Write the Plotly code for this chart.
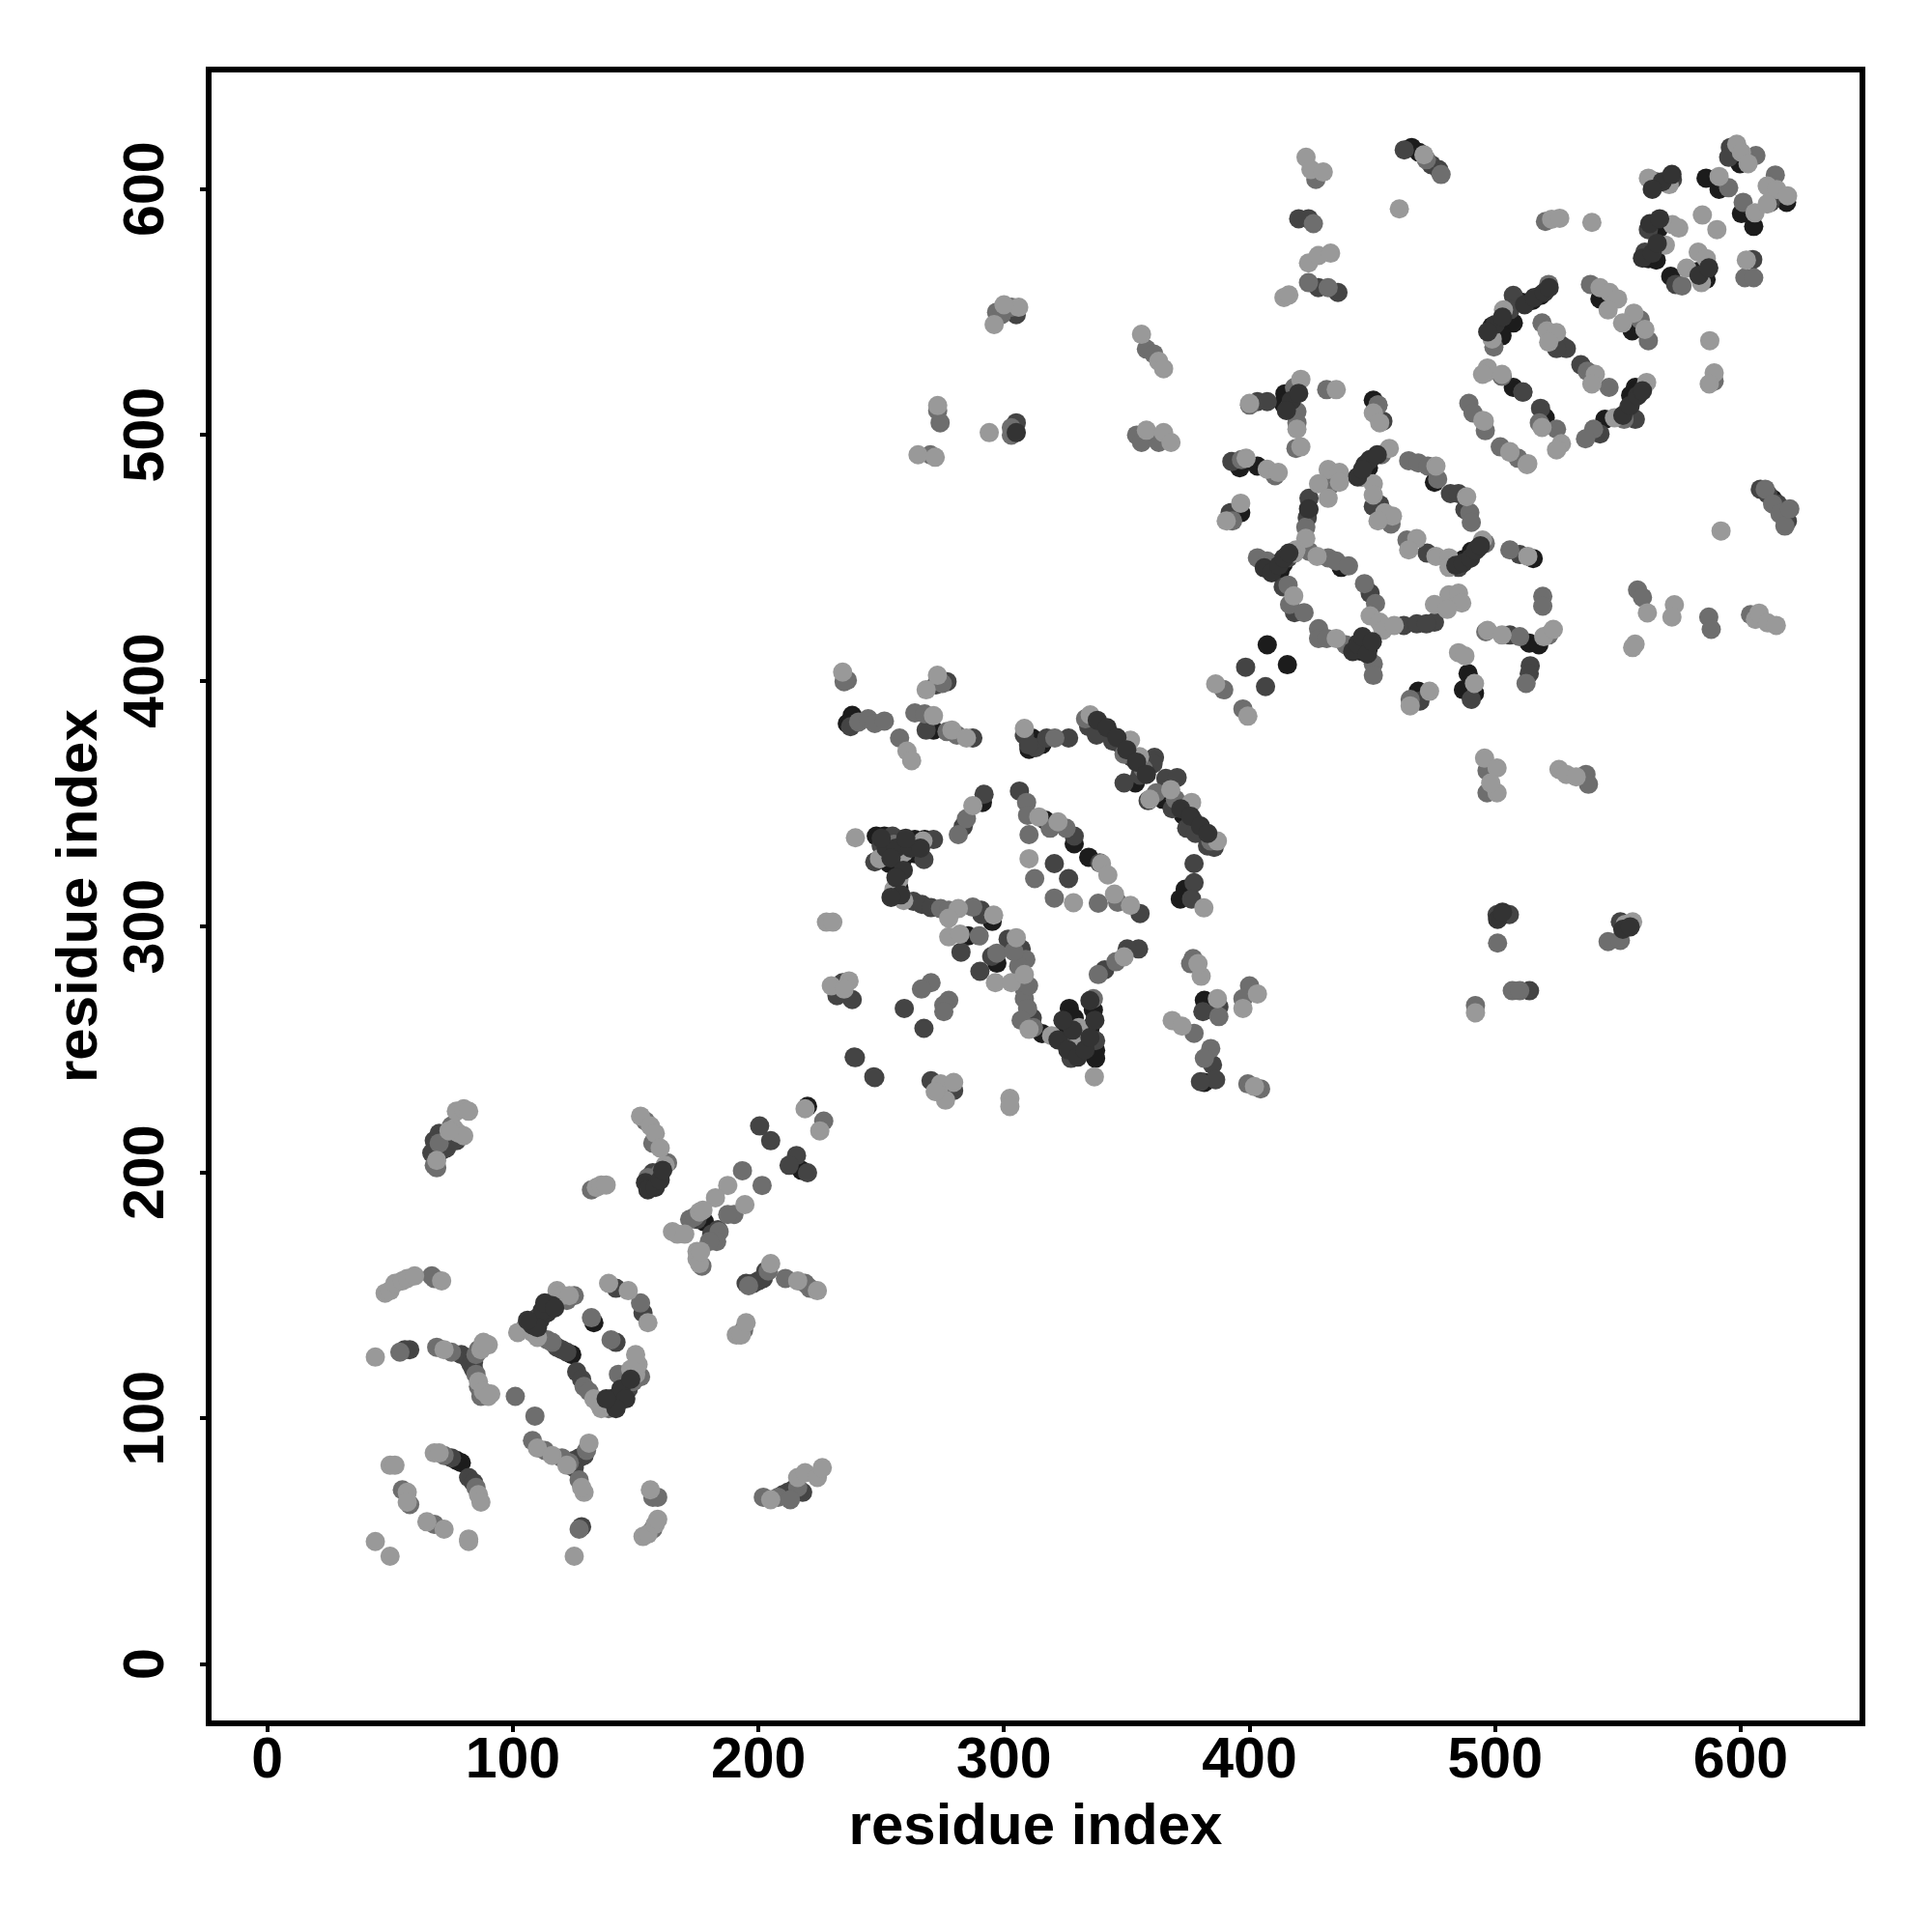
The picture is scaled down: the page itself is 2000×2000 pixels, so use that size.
import plotly.graph_objects as go

light_pts = [
(77,225),(80,226),(82,225),(76,218),(78,216),(80,215),(74,217),(69,205),
(152,223),(156,219),(158,216),(160,210),(162,203),
(44,125),(72,128),(87,128),(90,130),(88,131),(86,115),(88,111),(91,110),(90,109),
(48,151),(50,152),(52,155),(55,156),(57,157),(60,158),(71,156),
(50,81),(52,81),(68,86),(70,86),(86,69),(87,66),(57,70),(57,66),(65,58),(72,55),(82,50),(82,51),(44,50),(50,44),
(102,135),(118,152),(120,150),(123,150),(108,135),(110,133),(133,108),(135,106),(136,104),(150,118),(151,122),(150,126),(148,120),
(139,155),(147,152),(155,139),
(110,88),(116,85),(131,90),(122,81),(129,70),(128,72),(125,44),
(153,52),(155,53),(158,57),(159,59),(156,71),
(205,67),(216,76),(219,78),(224,76),(226,80),(205,163),(216,156),(224,152),
(191,134),(193,134),(195,139),
(165,176),(167,175),(170,175),(176,184),(175,168),(175,165),(176,163),(187.5,194.8),(182.5,189.8),(177.4,184.8),(176.5,168),(194.5,187),
(225,217),(219,226),(134,194),(136,195),(138,195),
(234.3,403.6),(272.9,402.3),(268.3,396.4),(260.5,371.5),(262.4,367.6),(271.3,385.9),(278.8,380),(284.7,376.8),
(308.3,380.7),(335.1,386.2),(351.5,375.9),(355.2,369.2),(359.4,351.9),(367.9,355.8),(376.4,350.6),(386.9,334.9),
(239.5,336.2),(267,334.9),(259.2,330.3),(249.3,327.7),(257.2,319.2),(255.2,315.3),(259.2,310.7),(281.4,307.4),(277.5,303.5),(295.8,304.8),
(227.7,301.9),(230.3,301.9),(277.5,295.9),(282.1,297),(296.5,277.3),(305,295.6),(303,277.3),(308.3,280.6),(310.2,258.3),(319.4,255.7),(330.5,259),(328.6,250.5),(336.8,239),(332,255),
(314.2,344.7),(322,342.7),(339.7,325.7),(342.3,321.1),(345,313.3),(351.5,308.7),(310.2,327.7),(328.3,309.8),(287.3,349.3),
(381.4,307.7),(348.9,287.8),(380.3,279.9),(379,285),(386.9,270.8),(403.2,272.7),(397.3,266.8),(368.5,261.9),(372.5,259.6),(402,235),
(302.4,230.2),(302.4,226.9),(236.9,278),(229.7,276),(234.9,274.7),(274.2,236.1),(279.5,236.7),(276.2,229.5),(272,233),
(400,512.9),(420.9,522.7),(419.3,502.4),(420.9,495.2),(435.3,518.5),(450.4,509),(453,505),
(456.9,494.6),(445.8,482.8),(450.4,480.2),(450.4,475.6),(455,468.4),(458.2,467.1),(452.3,465.1),(475.9,487.4),(488.4,474.9),
(468.1,457.9),(464.8,453.3),(475.9,450.7),(481.2,450.1),(481.2,446.2),(494.9,457.3),
(513.3,450.7),(398.6,490.6),(407.2,486.1),(411.7,484.8),(432,486),(436.6,484.8),(428.1,480.2),(436.6,480.8),(432,474.3),(422.9,458),(418.9,453.3),
(396.4,472.3),(390.5,465.1),(418.3,452),(427.5,450.7),(418,434.6),
(449.1,426.5),(453,423.9),(454.3,420.6),(458.9,422.6),(475.3,431.1),(481.2,435),(485.1,435.7),(486.4,431.7),(480.5,429.1),
(435.3,417.3),(386.2,398.8),(399.3,385.7),(473.3,395.8),(465.4,389.9),(485.1,411.5),(487.7,410.2),(491.6,399),
(496.9,420.6),(502.8,418.7),(519.8,418),(523.7,421),(496.2,525.3),(495.6,505.7),(506,493.3),(513.3,488.4),(527,496.5),(525,494),(519.1,503.1),
(471,614),(461,592),(523,587.8),(526.3,588.2),(539.4,586.5),(562.4,604.5),(570.9,601.9),(572.2,585.6),(574.8,584.2),(569.3,577.3),(578,567.9),
(582.7,574.4),(586,571.8),(584,562),(584.4,589.5),(590.3,583.6),(591.2,605.2),(598.4,618.3),(600.3,615),(603,610.4),(605.8,590.4),
(610.8,601.3),(614.7,599.9),(619.1,597.3),(610.8,594),(602.3,571.2),(587.4,538.4),(589.2,525.3),(587.2,520.8),
(503.4,550.9),(498.8,539.1),(542.7,560),(546.6,558),(549.9,555.4),(546,550.9),(556.5,549.6),(551.9,545.6),(561,543),
(521.1,542.4),(525,541.7),(521.8,537.8),(540.8,524.7),(539.4,520.8),(561.7,521.4),(548.6,507),
(496.9,527.3),(494.9,524.7),(502.8,524.7),(495,506),(506,493),(513,488),
(592,461),(562,427.7),(557,415),(556,413.6),(573,431),(572,426),(606,425),(607.5,427.6),(611,423.6),(614.5,422.6),
(495.7,368.6),(500.8,364.6),(500.8,354.5),(498.2,358.5),(526,364),(529,362),(533,361),
(553,301),(556,302),(492,265),(294,501),(296,545),(306,552),(300,553),(265,492),(272,491),(273,512),(356,541),(363,530),(365,527),(358,502),(365,501),(368,497),
(423,613),(425,608),(430,607),(424,570),(428,573),(433,574),(414,556),(416,557),
]

mid_pts = [
(68,203),(69,202),(70,212),(75,219),(154,221),(157,212),(160,200),(155,198),(163,204),
(54,127),(69,129),(75,127),(85,126),(86,128),(85,118),(87,109),(86,113),(101,109),(109,101),(68,157),(67,158),
(72,85),(85,72),(55,71),(58,65),(68,57),(105,137),(107,139),(117,148),(125,150),(122,148),(114,132),(116,131),(129,113),(131,111),(139,104),(149,115),(152,117),(143,118),
(152,147),(132,141),(140,132),(108,91),(113,87),(120,84),(123,82),(130,87),(127,75),(127,55),
(157,55),(157,68),(159,68),(202,68),(208,68),(216,72),(213,67),(204,160),(196,154),(211,157),(219,155),(221,153),(194,136),
(172,181),(177,162),(184,176),(183,172),(190,183),(193.5,200.8),(201.5,194.8),(187.5,183),(174,182),(180,172),(226.6,221),(132,193),
(236.2,400.3),(234.9,399.7),(274.9,399),(240.8,383.3),(244.7,384.6),(247.4,382.7),(251.3,383.7),(257.5,376.8),
(263.7,387),(267.7,386.6),(280.8,378),(276.8,379.4),(320.7,376.8),(333.2,384.6),(348.9,370.2),(356.7,364.3),(362,354.5),(369.8,351.9),(384.2,334.9),
(255.2,333.6),(274.2,307.4),(277.5,306.8),(287.3,308),(289.9,296.3),(297.1,289.3),(308.9,286.7),(308.3,274.7),(308.3,270.8),(309.6,266.8),(336.4,270.8),
(309.2,350.6),(309.6,345.4),(318.8,340.1),(325.3,340.1),(310.2,337.5),(346.3,310),(312.5,319.6),(320.5,311.7),(338.4,309.6),(281.4,337.5),(284.7,344),
(345.6,285.8),(338.4,280.6),(377,287.1),(376,285),(387.5,263.5),(400,276),(397.3,270.8),(377.4,256.7),(384.2,250.5),(381.6,246.5),(399.3,236.1),(404.5,234.1),
(270.3,277.3),(266.4,274.7),(277.5,270.1),(275.5,268.1),(275.5,265.5),
(400,512.2),(418.3,519.4),(419.3,509.6),(419.3,505),(418.9,494.6),(431.4,518.5),(452.3,512.2),
(453.7,492),(457.6,463.8),(464.8,489.6),(468.7,488.7),(472.6,487.4),(476.6,482.1),(489.7,468.4),(490.3,464.5),(464.1,457.3),(496,456),
(506,453.3),(396.7,490),(410.4,483.5),(432.7,479.5),(422.9,462.5),(424.2,452.7),(393.1,465.1),(403.2,450.1),(407.2,448.8),(432,450.1),(435.3,448.8),(440.3,446.8),
(415.7,439),(416.3,431.1),(422.2,427.8),(446.8,439.6),(451.3,431.5),(450.4,406.9),(450.4,402.3),(428.1,421.3),(428.1,417.3),(431.4,417.3),(439.2,414.7),
(389.5,396.4),(397.3,388.6),(465.4,392.5),(496.2,420),(510,418),(521.8,418.7),(519.4,434.4),(519.4,430.4),(512.6,399),
(502.8,524),(452.3,512.2),(489.3,512.9),(491,509),(496,501.8),(502.1,495.2),(509.3,490.6),(525,502.4),(518,505),
(472,612),(478,606),(520.5,586.9),(565,603.2),(576.1,560.7),(595.1,600.6),(606.2,613.7),(601,594.7),(614.1,605.8),(601.7,564),(605.3,564),(589.2,522),
(521.8,561.3),(499.5,535.8),(538.8,561.3),(559.1,546.9),(562.4,538.4),(519.1,545.6),(537.5,526),(546.4,519.4),(552.5,506.4),(540.1,502.4),(536.8,498.5),
(558,437),(560,434),(587,426),(588,421),(604,427),(496.7,363.5),(496.7,354.5),(537,362),(538,358),
(501,293.4),(507,274),(510,274),(492,268),(546,294),(551,294.5),
(303,500),(297,550),(303,552),(270,492),(273,510),(274,505),(358,535),(361,533),(354,500),(356,497),(363,497),
(427,604),(426,586),(424,562),(432,560),
(306,284),(310,276),(307,262),(312,259),(304,290),(610,478),(613,472),(616,468),(618,463),(620,470),(303,503),(299,549),
]

dark_pts = [
(68,213),(70,216),(72,212),(75,213),(67,208),(69,207),(73,210),(77,213),
(156,196),(157,194),(159,199),(157,200),(56,128),(58,128),(79,126),(82,124),(84,123),(83,122),(84,120),
(75,84),(82,76),(84,74),(109,140),(110,141),(112,142),(113,143),(115,145),(118,129),(120,128),(122,127),(126,119),(128,116),(141,106),(143,107),(145,110),(147,112),
(142,153),(153,143),(142,131),(125,83),(127,84),(129,85),(125,80),(128,56),
(210,69),(212,70),(214,71),(218,70),(195,155),(198,155),(200,156),(202,157),(203,160),(175,181),(181,175),(183.5,176.8),
(200.5,219),(205,213),(215.5,207),(212.5,203),(220,200),(239,247),(247,239),
(237.5,381.4),(276.8,399.7),(272.3,398.4),(268.3,380),(287.3,376.8),(308.3,378),(312.9,372.9),(317.4,376.8),(326.3,376.8),(310,374),
(336.4,384),(334.5,381.4),(339,381.4),(341.7,378.7),(337.7,378),(344.3,375.5),(352.2,368.9),(361.3,368.9),(360.7,366.3),(348.9,358.5),(355.4,361.7),(358.7,351.3),
(365.9,360.4),(370.5,360.7),(368.5,348),(377,343.4),(374.4,340.1),(379,340.1),(381.6,337.5),(378,338),(382.9,332.9),(385.6,332.3),
(254.6,336.9),(247.4,326.4),(271.3,335.5),(250,333),(267.4,327.4),(263.1,310.4),(266.6,309.1),(270.3,307.8),(290.6,306.8),(291,305),
(282.5,289.7),(290.2,281.9),(295,288),(301.7,295),(307,291),(311.5,262.9),(325.3,252.4),(327.3,246.5),(337.3,253.7),
(306.3,355.2),(328.6,336.9),(339,326),(320.5,325.7),(326.3,319.6),(355.4,305.4),(283.4,340.8),(291.9,353.9),
(377.4,325.7),(377.4,317.9),(376.4,311.3),(354.8,291),(350.2,291),(341,282.5),(387.5,267.5),(381,265.5),(384.9,243.9),(386.2,237.8),(380,237),
(259.4,266.8),(267.4,258.7),(234.3,277.3),(238.2,270.4),(232,272),(239.5,246.8),(247.4,238.7),(270.3,237.4),(279.5,233.4),
(403.2,513.6),(407.2,513.6),(416.3,511.6),(454.3,505.7),(453,471.7),(450.4,471),(481.8,476.2),(485.1,476.2),(487.7,469.7),(472.3,452),(485.1,446.2),(493,454),(510,451.4),
(392.8,489.3),(424.2,474.3),(424.2,469.7),(423.5,466.4),(392.1,468.4),(415.7,450.1),(413.7,438.3),(418.3,427.8),(449.1,435.7),(462.8,422.6),(468.1,423.2),(475.3,423.9),(472,423.2),(443.2,414.7),
(398.4,405.6),(406.5,397.7),(469.4,391.8),(490.3,392.5),(506,418.7),(514.3,406.2),(513.9,403),(518.5,510.9),(511.3,517.5),(502.8,524),
(463,616),(474,610),(477,608),(572.2,603.9),(562.4,583.6),(561,574.4),(573.5,561.3),(595.8,617),(595.1,613),(612.1,594.7),(604.9,571.4),
(507.4,556.8),(506,550.9),(527,536.5),(529,535.2),(525,535.2),(534.9,528.6),(554.5,511.6),(557.1,506.4),(542.7,500.5),(511.3,517.5),
(608,478),(611,476),(615,472),(618,468),(619,465),(500.8,305),(505.8,305),(514,274),(551,302),(305,505),(305,549),(420,588),(424,588),(428,560),(436,558),
]

black_pts = [
(72,211),(71,209),(158,197),(77,83),(79,82),(124,126),(133,139),(178,180),(176.4,182),(217.5,201),(220,227),
(238.2,386),(236.2,382.7),(271.3,380),(311.5,376.8),(310.2,372.2),(315.5,374.2),(346.9,374.8),(353.5,358.5),(364.6,351.9),(373.1,345.4),
(248,336.9),(251.3,336.9),(258.5,335.5),(263.7,335.5),(267.7,335.5),(263.7,329.7),(256.5,325.7),(253.3,325.7),(258.5,327),(257.2,315.9),(295.2,302.2),
(285.4,296.3),(297.1,285.2),(315.5,256.6),(326.6,266.8),(328.6,262.9),(324.6,256.4),(336.4,266.2),(335.1,259),(337.3,249.8),(337.3,246.5),
(316.8,343.4),(328.6,333.8),(334.5,328.3),(291.2,350.6),(373.8,315.3),(371.8,311.3),(381.6,270.1),(381.6,236.7),
(414.4,516.8),(413.7,512.9),(450.4,514.2),(448.4,486.7),(446.5,484.8),(475.3,480.8),(487.1,449.4),(490.3,452.7),(515.5,449.8),
(396,486.7),(403.2,487.4),(396.4,468.4),(410.4,447.5),(413.7,447.5),(412.4,444.8),(437.3,446.2),(447.1,416),(448.4,413.4),(445.1,412.1),
(407.2,414.7),(415.4,406.6),(468.7,395.8),(489,403),(487.1,396.4),(491.6,395),(513.9,415.4),(517.8,414.7),(507.4,519.4),(520.4,507),
(466,617),(469,615),(563.7,585.6),(566.3,583.6),(565.6,571.2),(562.4,571.8),(571.5,564.6),(582.7,566.6),(585.9,563.3),(585.9,604.5),(591.2,600),(599.7,610.4),(600.3,590.1),(605.3,584.9),(618.7,594.7),
(518.5,556.8),(515.2,554.8),(510.6,554.1),(507.4,545.6),(498.8,544.3),(502.8,540.4),(542.7,555.4),(555.8,542.4),(557.1,519.4),(555.2,516.2),(544.7,506.4),(519.8,507.6),(613,474),
]

strong_top_pts = [
(108,138),(111,140),(114,143),(116,146),(112,144),(110,137),(106,140),(113,147),(117,145),
(140,108),(144,112),(146,108),(148,116),(142,104),(138,108),
(154,196),(155,193),(158,194),(160,197),(161,201),
(252,332),(256,332),(262,332),(266,332),(250,336),(260,336),(254,328),(259,323),(256,320),(258,313),(254,312),
(338,384),(342,381),(346,377),(350,372),(354,367),(358,362),(372,348),(376,345),(380,341),(383,338),
(322,254),(326,250),(330,247),(333,250),(335,255),(337,262),(335,270),(328,258),(324,262),
(444,483),(447,488),(449,490),(452,492),(446,486),
(484,447),(487,448),(490,450),(492,453),(494,455),
(442,412),(444,415),(446,418),(448,411),(450,416),
(406,446),(409,444),(412,447),(414,450),(416,452),
(512,553),(516,556),(520,558),(522,560),(500,545),(503,548),(497,542),
(552,508),(555,512),(558,516),(560,518),(560,572),(564,574),(566,578),(563,586),(567,588),
(583,565),(587,568),(424,470),(417,514),(420,517),(415,510),
(568,603),(572,606),(564,600),(305,501),(501,303),(503,306),(552,299),(555,300),
]

x_ticks = [0, 100, 200, 300, 400, 500, 600]
y_ticks = [0, 100, 200, 300, 400, 500, 600]
axis_label = "residue index"

fig = go.Figure()
for pts, col in [(black_pts, "#1c1c1c"), (dark_pts, "#444444"), (mid_pts, "#6e6e6e"), (light_pts, "#999999"),
                 (strong_top_pts, "#333333")]:
    fig.add_trace(go.Scatter(x=[p[0] for p in pts], y=[p[1] for p in pts], mode="markers",
                             marker=dict(size=20, color=col, line=dict(width=0)),
                             showlegend=False, hoverinfo="skip"))

tick_font = dict(family="Liberation Sans", size=59, color="black", weight="bold")
title_font = dict(family="Liberation Sans", size=60, color="black", weight="bold")
ax = dict(showgrid=False, zeroline=False, showline=True, mirror=True, linecolor="black", linewidth=6,
          ticks="outside", ticklen=6, tickwidth=4, tickcolor="black", automargin=False)

annotations = [dict(x=0, xref="paper", y=v, yref="y", xshift=-70, text=str(v), showarrow=False,
                    textangle=-90, font=tick_font, xanchor="center", yanchor="middle") for v in y_ticks]
annotations.append(dict(x=0, xref="paper", y=0.5, yref="paper", xshift=-140, text=axis_label, showarrow=False,
                        textangle=-90, font=title_font, xanchor="center", yanchor="middle"))

fig.update_layout(
    width=2000, height=2000, autosize=False, paper_bgcolor="white", plot_bgcolor="white",
    margin=dict(l=211, r=82.7, t=66.7, b=227.3),
    annotations=annotations,
    xaxis=dict(ax, range=[-22.69, 648.4], tickmode="array", tickvals=x_ticks, ticktext=[str(v) for v in x_ticks],
               tickfont=tick_font, ticklabelstandoff=-24, title=dict(text=axis_label, standoff=17, font=title_font)),
    yaxis=dict(ax, range=[-22.8, 647.5], tickmode="array", tickvals=y_ticks, ticktext=["" for v in y_ticks],
               tickfont=tick_font),
)
fig.write_html("out.html")
